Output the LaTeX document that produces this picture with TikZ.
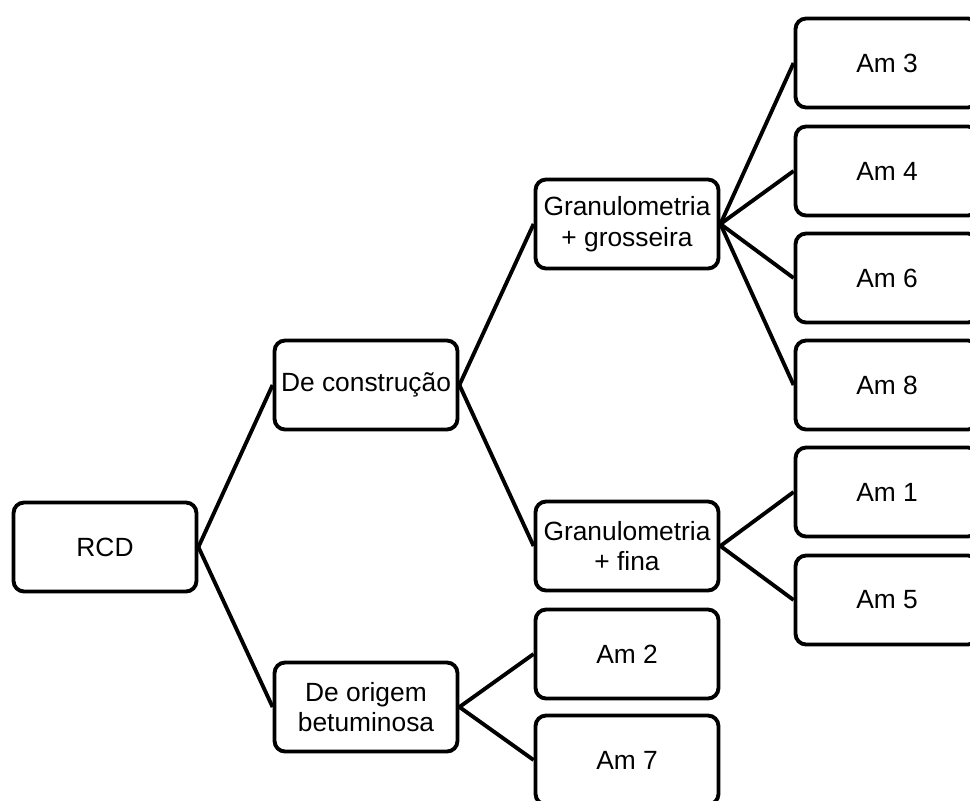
\documentclass[tikz,border=0pt]{standalone}
\usepackage{fontspec}
\setmainfont{Liberation Sans}
\usepackage{tikz}

\begin{document}
\begin{tikzpicture}
    [x=0.02cm,y=-0.02cm,
    box/.style={draw,black,line width=2.2pt,rounded corners=6pt,
        minimum width=3.66cm,minimum height=1.78cm,align=center,
        font=\fontsize{15}{17.5}\selectfont},
    link/.style={black,line width=2.2pt}]

%fix the page to the size of the reference
\useasboundingbox (0,0) rectangle (970,801);
\clip (0,0) rectangle (970,801);

%root and first level
\node[box] (rcd) at (105,547) {RCD};
\node[box] (constr) at (366,385) {De construção};
\node[box] (betum) at (366,707) {De origem\\betuminosa};

%second level
\node[box] (grosso) at (627,224) {Granulometria\\+ grosseira};
\node[box] (fina) at (627,546) {Granulometria\\+ fina};
\node[box] (am2) at (627,654) {Am 2};
\node[box] (am7) at (627,760) {Am 7};

%samples on the right
\node[box] (am3) at (887,63) {Am 3};
\node[box] (am4) at (887,171) {Am 4};
\node[box] (am6) at (887,278) {Am 6};
\node[box] (am8) at (887,385) {Am 8};
\node[box] (am1) at (887,492) {Am 1};
\node[box] (am5) at (887,600) {Am 5};

%connectors
\draw[link] (rcd.east) -- (constr.west);
\draw[link] (rcd.east) -- (betum.west);
\draw[link] (constr.east) -- (grosso.west);
\draw[link] (constr.east) -- (fina.west);
\draw[link] (betum.east) -- (am2.west);
\draw[link] (betum.east) -- (am7.west);
\foreach \s in {am3,am4,am6,am8}
    \draw[link] (grosso.east) -- (\s.west);
\draw[link] (fina.east) -- (am1.west);
\draw[link] (fina.east) -- (am5.west);

\end{tikzpicture}
\end{document}
